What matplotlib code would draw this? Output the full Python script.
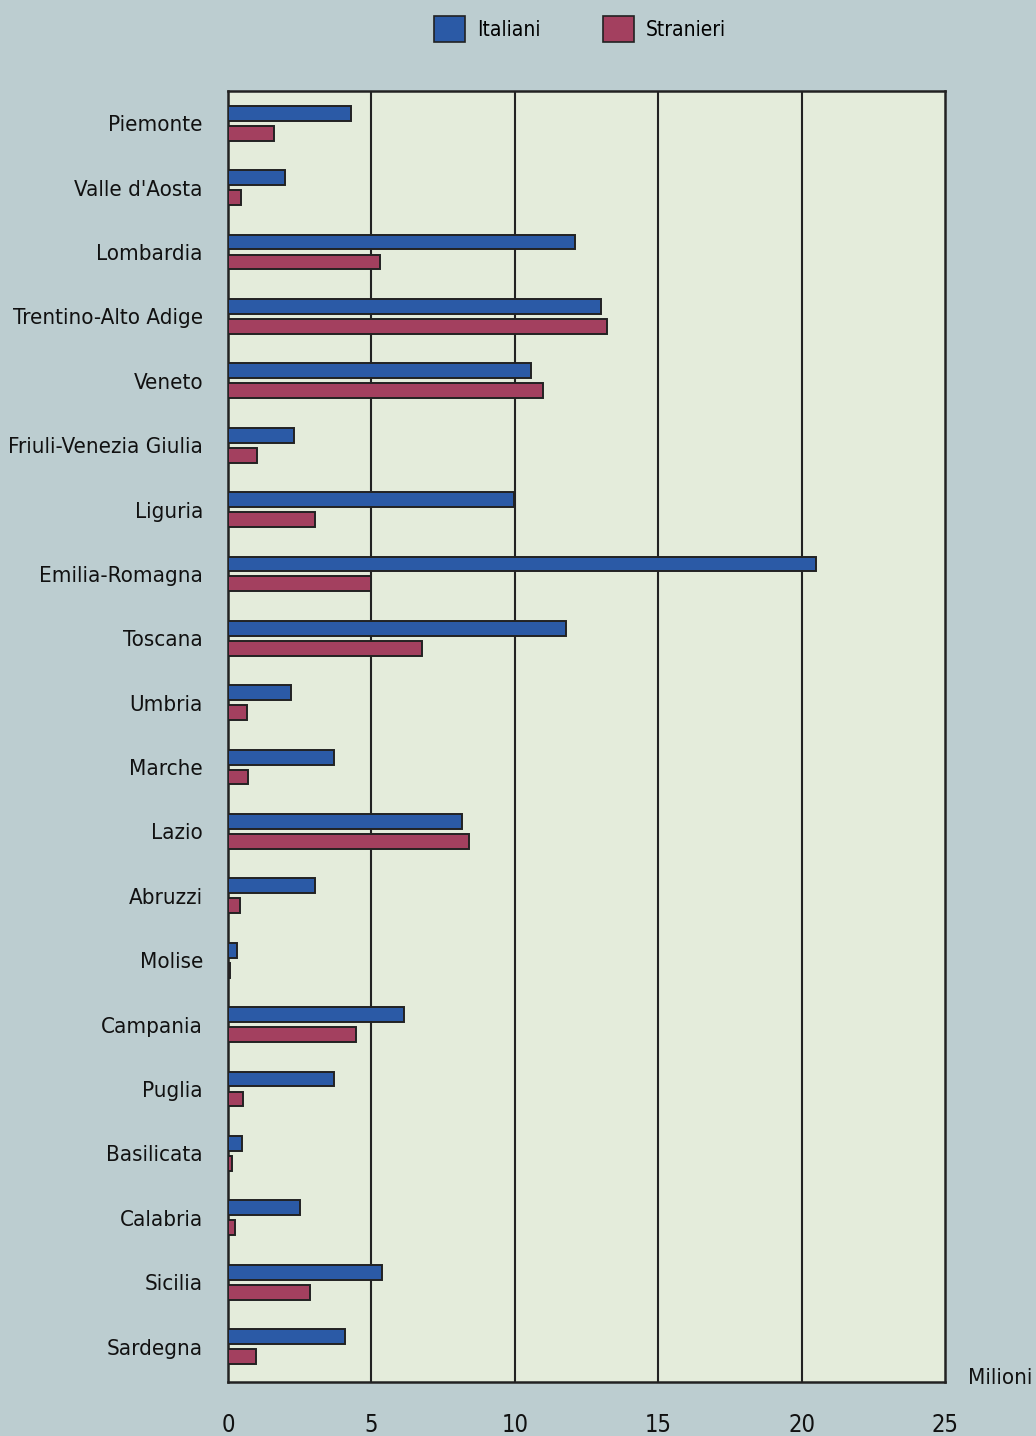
import matplotlib.pyplot as plt
import numpy as np
from matplotlib.patches import Patch

regions = ["Piemonte", "Valle d'Aosta", "Lombardia", "Trentino-Alto Adige", "Veneto",
           "Friuli-Venezia Giulia", "Liguria", "Emilia-Romagna", "Toscana", "Umbria",
           "Marche", "Lazio", "Abruzzi", "Molise", "Campania", "Puglia", "Basilicata",
           "Calabria", "Sicilia", "Sardegna"]
italiani = [4.3, 2.0, 12.1, 13.0, 10.55, 2.3, 9.97, 20.5, 11.8, 2.2,
            3.7, 8.15, 3.05, 0.31, 6.13, 3.7, 0.5, 2.5, 5.37, 4.08]
stranieri = [1.6, 0.45, 5.3, 13.2, 11.0, 1.0, 3.05, 5.0, 6.76, 0.66,
             0.7, 8.4, 0.42, 0.07, 4.46, 0.52, 0.14, 0.24, 2.86, 0.98]
xticks = [0, 5, 10, 15, 20, 25]

blue = '#2b5aa6'
red = '#a3405f'
fontfam = ['DejaVu Sans']

fig = plt.figure(figsize=(10.36, 14.36), dpi=100)
fig.patch.set_facecolor('#bccdd0')
ax = fig.add_axes([228 / 1036, 54 / 1436, 717 / 1036, 1291 / 1436])
ax.set_facecolor('#e4ecdb')

y = np.arange(len(regions))
h = 0.23
off = 0.155
ax.barh(y - off, italiani, height=h, color=blue, edgecolor='#222222', linewidth=1.4, zorder=3)
ax.barh(y + off, stranieri, height=h, color=red, edgecolor='#222222', linewidth=1.4, zorder=3)

ax.set_xlim(0, 25)
ax.set_ylim(len(regions) - 0.45, -0.5)
ax.set_yticks(y)
ax.set_yticklabels(regions, fontsize=16, family=fontfam, stretch='condensed', color='#111111')
ax.set_xticks(xticks)
ax.set_xticklabels([str(t) for t in xticks], fontsize=17, family=fontfam,
                   stretch='condensed', color='#111111')
ax.tick_params(axis='both', length=0)
ax.tick_params(axis='y', pad=18)
ax.tick_params(axis='x', pad=22)
for t in xticks[1:-1]:
    ax.axvline(t, color='#222222', linewidth=1.5, zorder=2)
for s in ax.spines.values():
    s.set_color('#222222')
    s.set_linewidth(1.8)

fig.text(1000 / 1036, 1 - 1378 / 1436, 'Milioni', fontsize=16, family=fontfam,
         stretch='condensed', ha='center', va='center', color='#111111')

handles = [Patch(facecolor=blue, edgecolor='#222222', linewidth=1.2, label='Italiani'),
           Patch(facecolor=red, edgecolor='#222222', linewidth=1.2, label='Stranieri')]
fig.legend(handles=handles, loc='center', bbox_to_anchor=(580 / 1036, 1 - 29 / 1436),
           ncol=2, frameon=False, handlelength=1.5, handleheight=1.6,
           handletextpad=0.55, columnspacing=3.0,
           prop={'family': fontfam, 'size': 15, 'stretch': 'condensed'})

fig.savefig('out.png', dpi=100, facecolor=fig.get_facecolor())
